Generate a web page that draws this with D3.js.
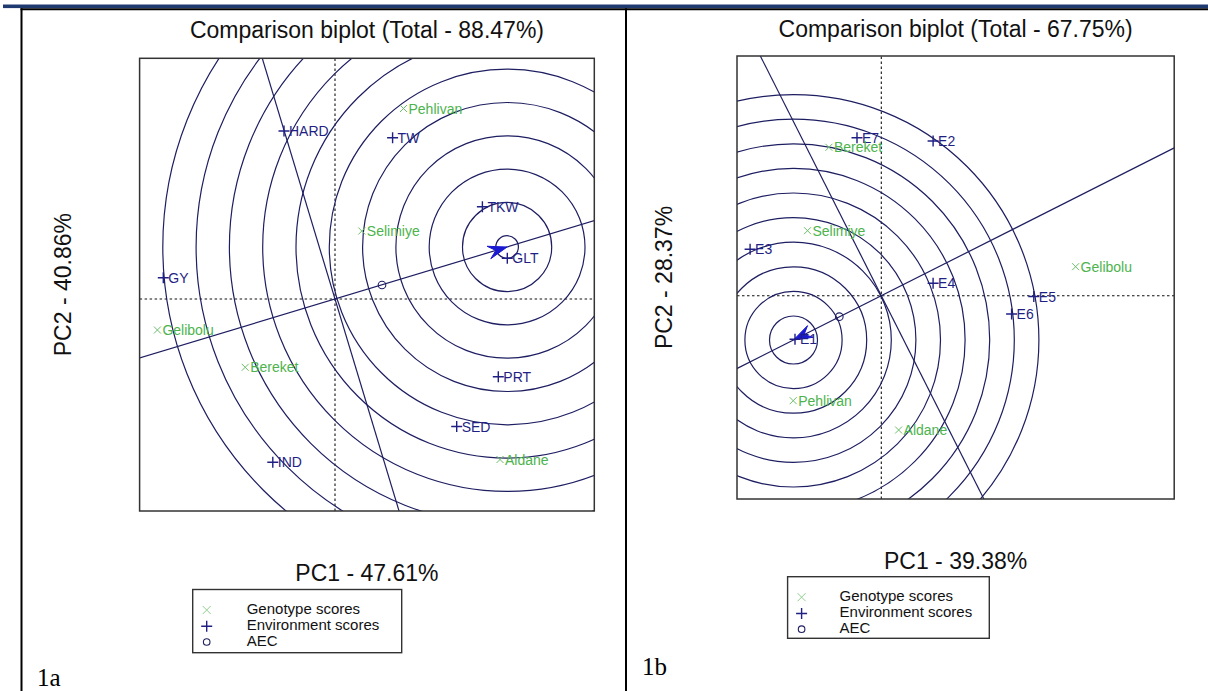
<!DOCTYPE html>
<html><head><meta charset="utf-8">
<script src="https://cdn.jsdelivr.net/npm/d3@7"></script>
<style>body{margin:0;background:#fff} svg{display:block}</style>
</head><body><svg id="c" width="1208" height="691"></svg>
<script>
// ---------- Panel 1a data (biplot units) ----------
const titleA = "Comparison biplot (Total - 88.47%)";
const pc1A = "PC1 - 47.61%";
const pc2A = "PC2 - 40.86%";
const genoNamesA = ["Pehlivan", "Selimiye", "Gelibolu", "Bereket", "Aldane"];
const genoXA = [0.685, 0.268, -1.776, -0.898, 1.65];
const genoYA = [1.905, 0.68, -0.31, -0.683, -1.605];
const envNamesA = ["HARD", "TW", "TKW", "GLT", "GY", "PRT", "SED", "IND"];
const envXA = [-0.51, 0.576, 1.474, 1.723, -1.717, 1.633, 1.217, -0.622];
const envYA = [1.68, 1.613, 0.923, 0.407, 0.213, -0.777, -1.275, -1.633];
const aecA = [0.47, 0.14];
const idealA = [1.721, 0.52];
const ringsA = [0.113, 0.446, 0.779, 1.112, 1.445, 1.778, 2.111, 2.444, 2.777, 3.11, 3.443];
const xDomA = [-1.954, 2.593];
const yDomA = [-2.12, 2.407];

// ---------- Panel 1b data (biplot units) ----------
const titleB = "Comparison biplot (Total - 67.75%)";
const pc1B = "PC1 - 39.38%";
const pc2B = "PC2 - 28.37%";
const genoNamesB = ["Bereket", "Selimiye", "Gelibolu", "Pehlivan", "Aldane"];
const genoXB = [-0.524, -0.738, 1.943, -0.881, 0.173];
const genoYB = [1.484, 0.65, 0.29, -1.05, -1.343];
const envNamesB = ["E7", "E2", "E3", "E4", "E5", "E6", "E1"];
const envXB = [-0.243, 0.518, -1.312, 0.518, 1.525, 1.303, -0.863];
const envYB = [1.58, 1.547, 0.464, 0.124, -0.008, -0.183, -0.436];
const aecB = [-0.42, -0.21];
const idealB = [-0.878, -0.443];
const ringsB = [0.24, 0.486, 0.732, 0.978, 1.224, 1.47, 1.716, 1.962, 2.208, 2.454];
const xDomB = [-1.443, 2.929];
const yDomB = [-2.033, 2.397];

const legendLabels = ["Genotype scores", "Environment scores", "AEC"];

// ---------- styling ----------
const LINE = "#1e1e62";
const ENV = "#1f1f84";
const GENO = "#4db34d";
const ARROW = "#1a1ad0";
const SANS = "'Liberation Sans', Arial, Helvetica, sans-serif";

const svg = d3.select("#c");

// frame
svg.append("rect").attr("x", 3).attr("y", 4.5).attr("width", 1205).attr("height", 3.6).attr("fill", "#1f3a70");
svg.append("line").attr("x1", 20.5).attr("x2", 1208).attr("y1", 9.2).attr("y2", 9.2).attr("stroke", "#000").attr("stroke-width", 2);
svg.append("line").attr("x1", 21.5).attr("x2", 21.5).attr("y1", 8.2).attr("y2", 691).attr("stroke", "#000").attr("stroke-width", 2);
svg.append("line").attr("x1", 626).attr("x2", 626).attr("y1", 8.2).attr("y2", 691).attr("stroke", "#000").attr("stroke-width", 2);

function panel(o) {
  const sx = d3.scaleLinear().domain(o.xDom).range([o.box[0], o.box[2]]);
  const sy = d3.scaleLinear().domain(o.yDom).range([o.box[3], o.box[1]]);
  const g = svg.append("g");
  const cid = "clip" + o.id;
  g.append("clipPath").attr("id", cid).append("rect")
    .attr("x", o.box[0]).attr("y", o.box[1])
    .attr("width", o.box[2] - o.box[0]).attr("height", o.box[3] - o.box[1]);
  const inner = g.append("g").attr("clip-path", `url(#${cid})`);

  // dotted axes through origin
  inner.append("line").attr("x1", sx(o.xDom[0])).attr("x2", sx(o.xDom[1]))
    .attr("y1", sy(0)).attr("y2", sy(0))
    .attr("stroke", "#111").attr("stroke-width", 1.1).attr("stroke-dasharray", "2.5,2.5");
  inner.append("line").attr("x1", sx(0)).attr("x2", sx(0))
    .attr("y1", sy(o.yDom[0])).attr("y2", sy(o.yDom[1]))
    .attr("stroke", "#111").attr("stroke-width", 1.1).attr("stroke-dasharray", "2.5,2.5");

  // concentric rings around ideal point
  inner.selectAll("ellipse.ring").data(o.rings).enter().append("ellipse")
    .attr("cx", sx(o.ideal[0])).attr("cy", sy(o.ideal[1]))
    .attr("rx", r => sx(o.ideal[0] + r) - sx(o.ideal[0]))
    .attr("ry", r => sy(o.ideal[1] - r) - sy(o.ideal[1]))
    .attr("fill", "none").attr("stroke", LINE).attr("stroke-width", 1.2);

  // AEC abscissa and ordinate through origin
  const [ax, ay] = o.ideal;
  const L = 20;
  inner.append("line").attr("x1", sx(-ax * L)).attr("y1", sy(-ay * L))
    .attr("x2", sx(ax * L)).attr("y2", sy(ay * L))
    .attr("stroke", LINE).attr("stroke-width", 1.2);
  inner.append("line").attr("x1", sx(ay * L)).attr("y1", sy(-ax * L))
    .attr("x2", sx(-ay * L)).attr("y2", sy(ax * L))
    .attr("stroke", LINE).attr("stroke-width", 1.2);

  // arrowhead at ideal point
  const tx = sx(ax), ty = sy(ay);
  let ux = sx(0) - tx, uy = sy(0) - ty;
  const n = Math.hypot(ux, uy); ux /= n; uy /= n;
  const px = -uy, py = ux, AL = 19, AW = 6.5;
  const pts = [[tx, ty], [tx + ux * AL + px * AW, ty + uy * AL + py * AW],
               [tx + ux * AL * 0.62, ty + uy * AL * 0.62],
               [tx + ux * AL - px * AW, ty + uy * AL - py * AW]];
  inner.append("path").attr("d", "M" + pts.map(p => p.join(",")).join("L") + "Z")
    .attr("fill", ARROW).attr("stroke", ARROW).attr("stroke-width", 1);

  // AEC small circle
  inner.append("circle").attr("cx", sx(o.aec[0])).attr("cy", sy(o.aec[1])).attr("r", 3.8)
    .attr("fill", "none").attr("stroke", LINE).attr("stroke-width", 1.1);

  // environments
  o.envNames.forEach((name, i) => {
    const x = sx(o.envX[i]), y = sy(o.envY[i]);
    g.append("path").attr("d", `M${x - 5.5},${y}H${x + 5.5}M${x},${y - 5.5}V${y + 5.5}`)
      .attr("stroke", ENV).attr("stroke-width", 1.4);
    g.append("text").attr("x", x + 5).attr("y", y + 5).text(name)
      .attr("font-family", SANS).attr("font-size", 14).attr("fill", ENV);
  });
  // genotypes
  o.genoNames.forEach((name, i) => {
    const x = sx(o.genoX[i]), y = sy(o.genoY[i]);
    g.append("path").attr("d", `M${x - 3.5},${y - 3.5}L${x + 3.5},${y + 3.5}M${x - 3.5},${y + 3.5}L${x + 3.5},${y - 3.5}`)
      .attr("stroke", "#6cc06c").attr("stroke-width", 1);
    g.append("text").attr("x", x + 5).attr("y", y + 5).text(name)
      .attr("font-family", SANS).attr("font-size", 14).attr("fill", GENO);
  });

  // plot box
  g.append("rect").attr("x", o.box[0]).attr("y", o.box[1])
    .attr("width", o.box[2] - o.box[0]).attr("height", o.box[3] - o.box[1])
    .attr("fill", "none").attr("stroke", "#333").attr("stroke-width", 1.5);

  const cx = (o.box[0] + o.box[2]) / 2, cy = (o.box[1] + o.box[3]) / 2;
  g.append("text").attr("x", cx).attr("y", o.titleY).attr("text-anchor", "middle").text(o.title)
    .attr("font-family", SANS).attr("font-size", 23).attr("fill", "#111");
  g.append("text").attr("x", cx).attr("y", o.box[3] + 69.5).attr("text-anchor", "middle").text(o.pc1)
    .attr("font-family", SANS).attr("font-size", 23).attr("fill", "#111");
  g.append("text").attr("transform", `translate(${o.pc2X},${cy}) rotate(-90)`)
    .attr("text-anchor", "middle").text(o.pc2)
    .attr("font-family", SANS).attr("font-size", 23).attr("fill", "#111");

  // legend
  const lg = g.append("g").attr("transform", `translate(${o.leg[0]},${o.leg[1]})`);
  lg.append("rect").attr("x", 0).attr("y", 0).attr("width", o.leg[2]).attr("height", o.leg[3])
    .attr("fill", "#fff").attr("stroke", "#333").attr("stroke-width", 1.4);
  const rowY = [20.5, 36.8, 52.5];
  lg.append("path").attr("d", `M${o.legSym - 4},${rowY[0] - 4}L${o.legSym + 4},${rowY[0] + 4}M${o.legSym - 4},${rowY[0] + 4}L${o.legSym + 4},${rowY[0] - 4}`)
    .attr("stroke", "#8fd08f").attr("stroke-width", 1);
  lg.append("path").attr("d", `M${o.legSym - 5.5},${rowY[1]}H${o.legSym + 5.5}M${o.legSym},${rowY[1] - 5.5}V${rowY[1] + 5.5}`)
    .attr("stroke", ENV).attr("stroke-width", 1.4);
  lg.append("circle").attr("cx", o.legSym).attr("cy", rowY[2]).attr("r", 3.3)
    .attr("fill", "none").attr("stroke", LINE).attr("stroke-width", 1.1);
  legendLabels.forEach((t, i) => {
    lg.append("text").attr("x", o.legText).attr("y", rowY[i] + 3.5 + (i === 0 ? 0 : 0)).text(t)
      .attr("font-family", SANS).attr("font-size", 15).attr("fill", "#111");
  });

  g.append("text").attr("x", o.tag[0]).attr("y", o.tag[1]).text(o.tagText)
    .attr("font-family", "'Liberation Serif', 'Times New Roman', serif").attr("font-size", 25).attr("fill", "#000");
}

panel({
  id: "A", title: titleA, pc1: pc1A, pc2: pc2A,
  genoNames: genoNamesA, genoX: genoXA, genoY: genoYA,
  envNames: envNamesA, envX: envXA, envY: envYA,
  aec: aecA, ideal: idealA, rings: ringsA, xDom: xDomA, yDom: yDomA,
  box: [139.6, 58.3, 594.3, 511], titleY: 38.3, pc2X: 71,
  leg: [192.7, 589.5, 209, 63.2], legSym: 14, legText: 54,
  tag: [37, 686], tagText: "1a"
});
panel({
  id: "B", title: titleB, pc1: pc1B, pc2: pc2B,
  genoNames: genoNamesB, genoX: genoXB, genoY: genoYB,
  envNames: envNamesB, envX: envXB, envY: envYB,
  aec: aecB, ideal: idealB, rings: ringsB, xDom: xDomB, yDom: yDomB,
  box: [737, 56, 1174.2, 499], titleY: 36.7, pc2X: 672,
  leg: [787.6, 576.7, 201.7, 61.6], legSym: 14, legText: 52,
  tag: [642, 675], tagText: "1b"
});
</script></body></html>
